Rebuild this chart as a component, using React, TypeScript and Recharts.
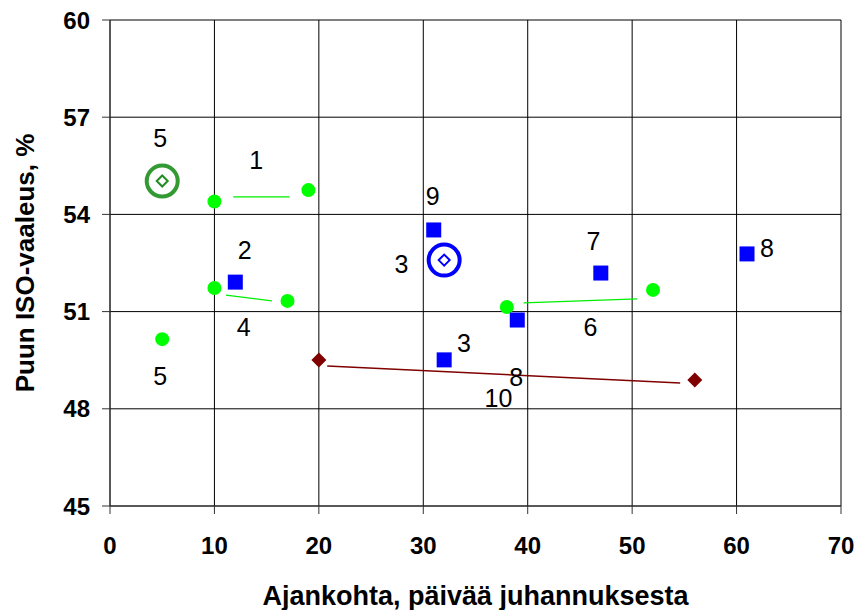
import React from "react";
import {
  ScatterChart,
  Scatter,
  XAxis,
  YAxis,
  CartesianGrid,
  ReferenceLine
} from "recharts";

const xTicks = [0, 10, 20, 30, 40, 50, 60, 70];
const yTicks = [45, 48, 51, 54, 57, 60];

// green dots
const greenPoints = [
  { x: 10, y: 54.4 },
  { x: 19, y: 54.75 },
  { x: 10, y: 51.73 },
  { x: 17, y: 51.33 },
  { x: 5, y: 50.15 },
  { x: 38, y: 51.14 },
  { x: 52, y: 51.67 }
];

// blue squares
const bluePoints = [
  { x: 12, y: 51.91 },
  { x: 31, y: 53.52 },
  { x: 47, y: 52.19 },
  { x: 39, y: 50.74 },
  { x: 32, y: 49.51 },
  { x: 61, y: 52.78 }
];

// dark red diamonds
const redPoints = [
  { x: 20, y: 49.51 },
  { x: 56, y: 48.89 }
];

// ring markers
const greenRing = [{ x: 5, y: 55.03 }];
const blueRing = [{ x: 32, y: 52.59 }];

// connector segments
const greenSegments = [
  [{ x: 11.8, y: 54.54 }, { x: 17.2, y: 54.54 }],
  [{ x: 11.1, y: 51.51 }, { x: 15.5, y: 51.33 }],
  [{ x: 39.6, y: 51.27 }, { x: 50.5, y: 51.39 }]
];
const redSegments = [
  [{ x: 20.8, y: 49.32 }, { x: 54.6, y: 48.8 }]
];

// number labels
const labels = [
  { x: 4.8, y: 56.36, text: "5" },
  { x: 14.0, y: 55.68, text: "1" },
  { x: 12.9, y: 52.9, text: "2" },
  { x: 12.8, y: 50.52, text: "4" },
  { x: 4.8, y: 49.01, text: "5" },
  { x: 30.9, y: 54.57, text: "9" },
  { x: 27.9, y: 52.47, text: "3" },
  { x: 33.9, y: 50.03, text: "3" },
  { x: 38.9, y: 48.98, text: "8" },
  { x: 46.3, y: 53.18, text: "7" },
  { x: 46.0, y: 50.52, text: "6" },
  { x: 62.9, y: 52.96, text: "8" },
  { x: 37.2, y: 48.33, text: "10" }
];

const font = "Arial, 'Liberation Sans', sans-serif";

const Circle = (p: any) => <circle cx={p.cx} cy={p.cy} r={7} fill="#00ff00" />;
const Square = (p: any) => (
  <rect x={p.cx - 7.5} y={p.cy - 7.5} width={15} height={15} fill="#0000ff" />
);
const Diamond = (p: any) => (
  <path
    d={`M${p.cx},${p.cy - 7.5} L${p.cx + 7.5},${p.cy} L${p.cx},${p.cy + 7.5} L${p.cx - 7.5},${p.cy} Z`}
    fill="#800000"
  />
);
const ring = (ringColor: string, diaColor: string) => (p: any) => (
  <g>
    <circle cx={p.cx} cy={p.cy} r={15.5} fill="none" stroke={ringColor} strokeWidth={4} />
    <path
      d={`M${p.cx},${p.cy - 5.5} L${p.cx + 5.5},${p.cy} L${p.cx},${p.cy + 5.5} L${p.cx - 5.5},${p.cy} Z`}
      fill="none"
      stroke={diaColor}
      strokeWidth={2}
    />
  </g>
);
const Label = (p: any) => (
  <text
    x={p.cx}
    y={p.cy + 9}
    textAnchor="middle"
    fontSize={25}
    fontFamily={font}
    fill="#000"
  >
    {p.payload.text}
  </text>
);

export default function App() {
  return (
    <div style={{ position: "absolute", left: 0, top: 0, background: "#fff" }}>
      <ScatterChart
        width={856}
        height={610}
        margin={{ top: 20, right: 15, left: 50, bottom: 4 }}
      >
        <CartesianGrid stroke="#000" strokeWidth={1} />
        <XAxis
          type="number"
          dataKey="x"
          domain={[0, 70]}
          ticks={xTicks}
          height={100}
          stroke="#333"
          tickSize={8}
          tickMargin={23}
          tick={{ fill: "#000", fontSize: 24, fontWeight: "bold", fontFamily: font }}
          label={{
            value: "Ajankohta, päivää juhannuksesta",
            position: "insideBottom",
            offset: 1,
            fill: "#000",
            fontSize: 27,
            fontWeight: "bold",
            fontFamily: font
          }}
        />
        <YAxis
          type="number"
          dataKey="y"
          domain={[45, 60]}
          ticks={yTicks}
          width={60}
          stroke="#333"
          tickSize={8}
          tickMargin={12}
          tick={{ fill: "#000", fontSize: 24, fontWeight: "bold", fontFamily: font }}
          label={{
            value: "Puun ISO-vaaleus, %",
            angle: -90,
            position: "insideLeft",
            offset: -25,
            style: { textAnchor: "middle" },
            fill: "#000",
            fontSize: 26,
            fontWeight: "bold",
            fontFamily: font
          }}
        />
        {greenSegments.map((s, i) => (
          <ReferenceLine key={`g${i}`} segment={s} stroke="#00ee00" strokeWidth={1.2} />
        ))}
        {redSegments.map((s, i) => (
          <ReferenceLine key={`r${i}`} segment={s} stroke="#800000" strokeWidth={1.5} />
        ))}
        <Scatter data={greenPoints} shape={Circle} isAnimationActive={false} />
        <Scatter data={bluePoints} shape={Square} isAnimationActive={false} />
        <Scatter data={redPoints} shape={Diamond} isAnimationActive={false} />
        <Scatter data={greenRing} shape={ring("#339933", "#228b22")} isAnimationActive={false} />
        <Scatter data={blueRing} shape={ring("#0000ff", "#0000ff")} isAnimationActive={false} />
        <Scatter data={labels} shape={Label} isAnimationActive={false} />
      </ScatterChart>
    </div>
  );
}
